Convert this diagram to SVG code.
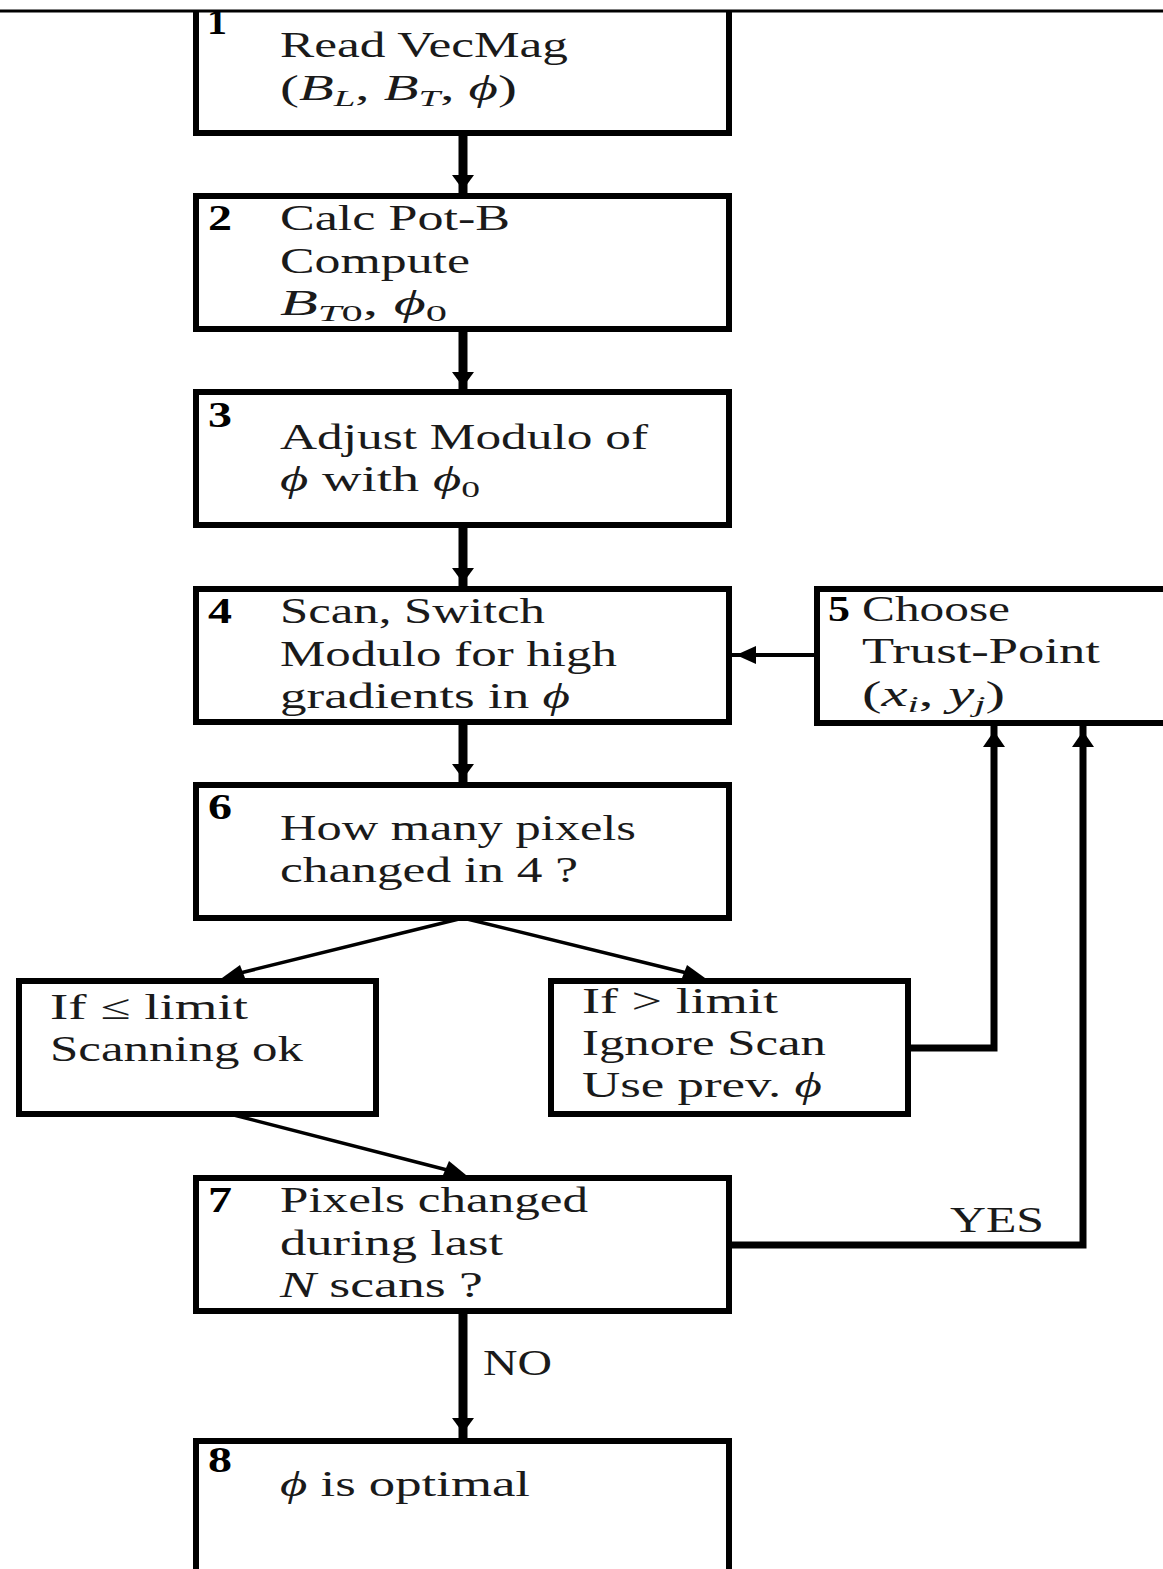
<svg xmlns="http://www.w3.org/2000/svg" width="1163" height="1569" viewBox="0 0 1163 1569">
<style>
.box{fill:#fff;stroke:#000;stroke-width:6}
.t{font-family:"Liberation Serif","DejaVu Serif",serif;font-size:35px;fill:#1a1a1a}
.n{font-family:"Liberation Serif","DejaVu Serif",serif;font-size:35px;font-weight:bold;fill:#000}
.i{font-style:italic}
.sub{font-size:24px}
.thick{stroke:#000;stroke-width:9;fill:none}
.mid{stroke:#000;stroke-width:6;fill:none}
.thin{stroke:#000;stroke-width:3.5;fill:none}
.ah{fill:#000}
</style>
<rect width="1163" height="1569" fill="#fff"/>
<g id="connectors">
  <line class="thick" x1="463" y1="133" x2="463" y2="196"/>
  <polygon class="ah" points="452,175 474,175 463,190"/>
  <line class="thick" x1="463" y1="329" x2="463" y2="392"/>
  <polygon class="ah" points="452,372 474,372 463,387"/>
  <line class="thick" x1="463" y1="525" x2="463" y2="589"/>
  <polygon class="ah" points="452,568 474,568 463,583"/>
  <line class="thick" x1="463" y1="722" x2="463" y2="785"/>
  <polygon class="ah" points="452,764 474,764 463,779"/>
  <line class="thick" x1="463" y1="1311" x2="463" y2="1441"/>
  <polygon class="ah" points="452,1418 474,1418 463,1433"/>
  <line class="mid" x1="817" y1="655" x2="729" y2="655" style="stroke-width:4"/>
  <polygon class="ah" points="736,655 756,646 756,664"/>
  <line class="thin" x1="463" y1="918" x2="232" y2="975"/>
  <polygon class="ah" points="222,978 240,965 245,978"/>
  <line class="thin" x1="463" y1="918" x2="695" y2="975"/>
  <polygon class="ah" points="705,978 682,978 687,965"/>
  <line class="thin" x1="230" y1="1114" x2="455" y2="1172"/>
  <polygon class="ah" points="466,1175 443,1175 449,1161"/>
  <polyline class="mid" points="908,1048 994,1048 994,723" style="stroke-width:7"/>
  <polygon class="ah" points="983,747 1005,747 994,731"/>
  <polyline class="mid" points="729,1245 1083,1245 1083,723" style="stroke-width:7"/>
  <polygon class="ah" points="1072,747 1094,747 1083,731"/>
  <text class="t" x="950" y="1232" textLength="94" lengthAdjust="spacingAndGlyphs">YES</text>
  <text class="t" x="483" y="1375" textLength="69" lengthAdjust="spacingAndGlyphs">NO</text>
</g>
<g id="node1">
  <path d="M196,11 V133 H729 V11" fill="#fff" stroke="#000" stroke-width="6"/>
  <text class="n" x="207" y="34" textLength="20" lengthAdjust="spacingAndGlyphs">1</text>
  <text class="t" x="280" y="57" textLength="288" lengthAdjust="spacingAndGlyphs">Read VecMag</text>
  <text class="t" x="280" y="100" textLength="237" lengthAdjust="spacingAndGlyphs">(<tspan class="i">B</tspan><tspan class="sub i" dy="6">L</tspan><tspan dy="-6">, </tspan><tspan class="i">B</tspan><tspan class="sub i" dy="6">T</tspan><tspan dy="-6">, </tspan><tspan class="i">ϕ</tspan>)</text>
</g>
<g id="node2">
  <rect class="box" x="196" y="196" width="533" height="133"/>
  <text class="n" x="208" y="230" textLength="24" lengthAdjust="spacingAndGlyphs">2</text>
  <text class="t" x="280" y="230" textLength="230" lengthAdjust="spacingAndGlyphs">Calc Pot-B</text>
  <text class="t" x="280" y="273" textLength="190" lengthAdjust="spacingAndGlyphs">Compute</text>
  <text class="t" x="280" y="315" textLength="167" lengthAdjust="spacingAndGlyphs"><tspan class="i">B</tspan><tspan class="sub" dy="6"><tspan class="i">T</tspan>0</tspan><tspan dy="-6">,  </tspan><tspan class="i">ϕ</tspan><tspan class="sub" dy="6">0</tspan></text>
</g>
<g id="node3">
  <rect class="box" x="196" y="392" width="533" height="133"/>
  <text class="n" x="208" y="427" textLength="24" lengthAdjust="spacingAndGlyphs">3</text>
  <text class="t" x="280" y="449" textLength="368" lengthAdjust="spacingAndGlyphs">Adjust Modulo of</text>
  <text class="t" x="280" y="491" textLength="200" lengthAdjust="spacingAndGlyphs"><tspan class="i">ϕ</tspan> with <tspan class="i">ϕ</tspan><tspan class="sub" dy="6">0</tspan></text>
</g>
<g id="node4">
  <rect class="box" x="196" y="589" width="533" height="133"/>
  <text class="n" x="208" y="623" textLength="24" lengthAdjust="spacingAndGlyphs">4</text>
  <text class="t" x="280" y="623" textLength="265" lengthAdjust="spacingAndGlyphs">Scan, Switch</text>
  <text class="t" x="280" y="666" textLength="337" lengthAdjust="spacingAndGlyphs">Modulo for high</text>
  <text class="t" x="280" y="708" textLength="290" lengthAdjust="spacingAndGlyphs">gradients in <tspan class="i">ϕ</tspan></text>
</g>
<g id="node5">
  <rect class="box" x="817" y="589" width="360" height="134"/>
  <text class="n" x="828" y="621" textLength="22" lengthAdjust="spacingAndGlyphs">5</text>
  <text class="t" x="862" y="621" textLength="148" lengthAdjust="spacingAndGlyphs">Choose</text>
  <text class="t" x="862" y="663" textLength="238" lengthAdjust="spacingAndGlyphs">Trust-Point</text>
  <text class="t" x="862" y="706" textLength="143" lengthAdjust="spacingAndGlyphs">(<tspan class="i">x</tspan><tspan class="sub i" dy="6">i</tspan><tspan dy="-6">, </tspan><tspan class="i">y</tspan><tspan class="sub i" dy="6">j</tspan><tspan dy="-6">)</tspan></text>
</g>
<g id="node6">
  <rect class="box" x="196" y="785" width="533" height="133"/>
  <text class="n" x="208" y="819" textLength="24" lengthAdjust="spacingAndGlyphs">6</text>
  <text class="t" x="280" y="840" textLength="356" lengthAdjust="spacingAndGlyphs">How many pixels</text>
  <text class="t" x="280" y="882" textLength="298" lengthAdjust="spacingAndGlyphs">changed in 4 ?</text>
</g>
<g id="node-ok">
  <rect class="box" x="19" y="981" width="357" height="133"/>
  <text class="t" x="50" y="1019" textLength="198" lengthAdjust="spacingAndGlyphs">If ≤ limit</text>
  <text class="t" x="50" y="1061" textLength="253" lengthAdjust="spacingAndGlyphs">Scanning ok</text>
</g>
<g id="node-ignore">
  <rect class="box" x="551" y="981" width="357" height="133"/>
  <text class="t" x="582" y="1013" textLength="196" lengthAdjust="spacingAndGlyphs">If &gt; limit</text>
  <text class="t" x="582" y="1055" textLength="244" lengthAdjust="spacingAndGlyphs">Ignore Scan</text>
  <text class="t" x="582" y="1097" textLength="240" lengthAdjust="spacingAndGlyphs">Use prev. <tspan class="i">ϕ</tspan></text>
</g>
<g id="node7">
  <rect class="box" x="196" y="1178" width="533" height="133"/>
  <text class="n" x="208" y="1212" textLength="24" lengthAdjust="spacingAndGlyphs">7</text>
  <text class="t" x="280" y="1212" textLength="308" lengthAdjust="spacingAndGlyphs">Pixels changed</text>
  <text class="t" x="280" y="1255" textLength="223" lengthAdjust="spacingAndGlyphs">during last</text>
  <text class="t" x="280" y="1297" textLength="203" lengthAdjust="spacingAndGlyphs"><tspan class="i">N</tspan> scans ?</text>
</g>
<g id="node8">
  <rect class="box" x="196" y="1441" width="533" height="160"/>
  <text class="n" x="208" y="1472" textLength="24" lengthAdjust="spacingAndGlyphs">8</text>
  <text class="t" x="280" y="1496" textLength="250" lengthAdjust="spacingAndGlyphs"><tspan class="i">ϕ</tspan> is optimal</text>
</g>
<line x1="0" y1="11" x2="1163" y2="11" stroke="#000" stroke-width="3"/>
</svg>
